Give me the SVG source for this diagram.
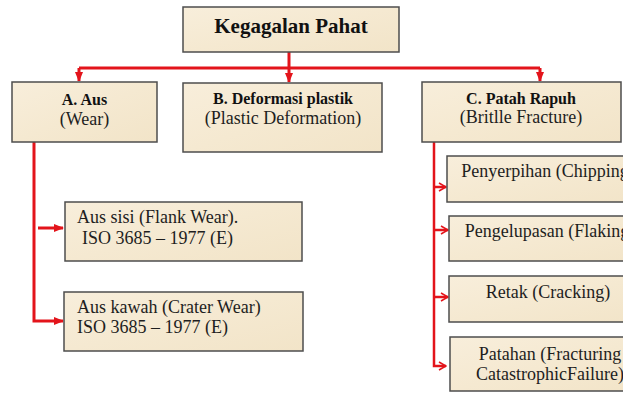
<svg xmlns="http://www.w3.org/2000/svg" width="623" height="396" viewBox="0 0 623 396">
<defs>
<linearGradient id="paper" x1="0" y1="0" x2="1" y2="1">
<stop offset="0" stop-color="#f8eedb"/>
<stop offset="0.5" stop-color="#f5e9d1"/>
<stop offset="1" stop-color="#f2e4c8"/>
</linearGradient>
<marker id="tri" markerUnits="userSpaceOnUse" markerWidth="10" markerHeight="10" viewBox="0 0 10 10" refX="9" refY="5" orient="auto">
<path d="M0,1 L10,5 L0,9 Z" fill="#e3141b"/>
</marker>
<marker id="chev" markerUnits="userSpaceOnUse" markerWidth="10" markerHeight="10" viewBox="0 0 10 10" refX="9" refY="5" orient="auto">
<path d="M2,1 L9,5 L2,9" fill="none" stroke="#e3141b" stroke-width="1.6"/>
</marker>
</defs>
<style>
.box{fill:url(#paper);stroke:#4d4d4d;stroke-width:1.5}
.t{font-family:"Liberation Serif","Times New Roman",serif;font-size:18px;fill:#1e1e1e}
.b{font-family:"Liberation Serif","Times New Roman",serif;font-size:16px;font-weight:bold;fill:#111}
.h{font-family:"Liberation Serif","Times New Roman",serif;font-size:21px;font-weight:bold;fill:#111}
.c{text-anchor:middle}
.ln{fill:none;stroke:#e3141b;stroke-width:3}
.ln2{fill:none;stroke:#e3141b;stroke-width:2.5}
</style>
<rect width="623" height="396" fill="#ffffff"/>

<g id="connectors">
<path class="ln" d="M289,52 V68"/>
<path class="ln" d="M79,68 H540"/>
<path class="ln" d="M79,68 V81" marker-end="url(#tri)"/>
<path class="ln" d="M289,68 V82" marker-end="url(#tri)"/>
<path class="ln" d="M540,68 V81" marker-end="url(#tri)"/>
<path class="ln" d="M34,142 V321 H63" marker-end="url(#tri)"/>
<path class="ln" d="M38,228 H63" marker-end="url(#tri)"/>
<path class="ln2" d="M434,142 V366 H446" marker-end="url(#chev)"/>
<path class="ln2" d="M434,187 H446" marker-end="url(#chev)"/>
<path class="ln2" d="M434,230 H448" marker-end="url(#chev)"/>
<path class="ln2" d="M434,297 H448" marker-end="url(#chev)"/>
</g>

<g id="root">
<rect class="box" x="183" y="7" width="216" height="45"/>
<text class="h c" x="291" y="33">Kegagalan Pahat</text>
</g>

<g id="A">
<rect class="box" x="12" y="82" width="145" height="60"/>
<text class="b c" x="84.5" y="105">A. Aus</text>
<text class="t c" x="84.5" y="125">(Wear)</text>
</g>

<g id="B">
<rect class="box" x="183" y="83" width="199" height="69"/>
<text class="b c" x="283" y="104">B. Deformasi plastik</text>
<text class="t c" x="283" y="124">(Plastic Deformation)</text>
</g>

<g id="C">
<rect class="box" x="422" y="82" width="199" height="60"/>
<text class="b c" x="521" y="104">C. Patah Rapuh</text>
<text class="t c" x="521" y="123">(Britlle Fracture)</text>
</g>

<g id="A1">
<rect class="box" x="65" y="202" width="237" height="59"/>
<text class="t" x="77" y="223">Aus sisi (Flank Wear).</text>
<text class="t" x="82" y="244">ISO 3685 – 1977 (E)</text>
</g>

<g id="A2">
<rect class="box" x="64" y="292" width="239" height="59"/>
<text class="t" x="77" y="313">Aus kawah (Crater Wear)</text>
<text class="t" x="77" y="333">ISO 3685 – 1977 (E)</text>
</g>

<g id="C1">
<rect class="box" x="447" y="156" width="200" height="46"/>
<text class="t c" x="548" y="177">Penyerpihan (Chipping)</text>
</g>

<g id="C2">
<rect class="box" x="449" y="216" width="200" height="45"/>
<text class="t c" x="550" y="237">Pengelupasan (Flaking)</text>
</g>

<g id="C3">
<rect class="box" x="449" y="276" width="200" height="46"/>
<text class="t c" x="548" y="298">Retak (Cracking)</text>
</g>

<g id="C4">
<rect class="box" x="450" y="337" width="200" height="54"/>
<text class="t c" x="550" y="360">Patahan (Fracturing</text>
<text class="t c" x="550" y="380">CatastrophicFailure)</text>
</g>
</svg>
